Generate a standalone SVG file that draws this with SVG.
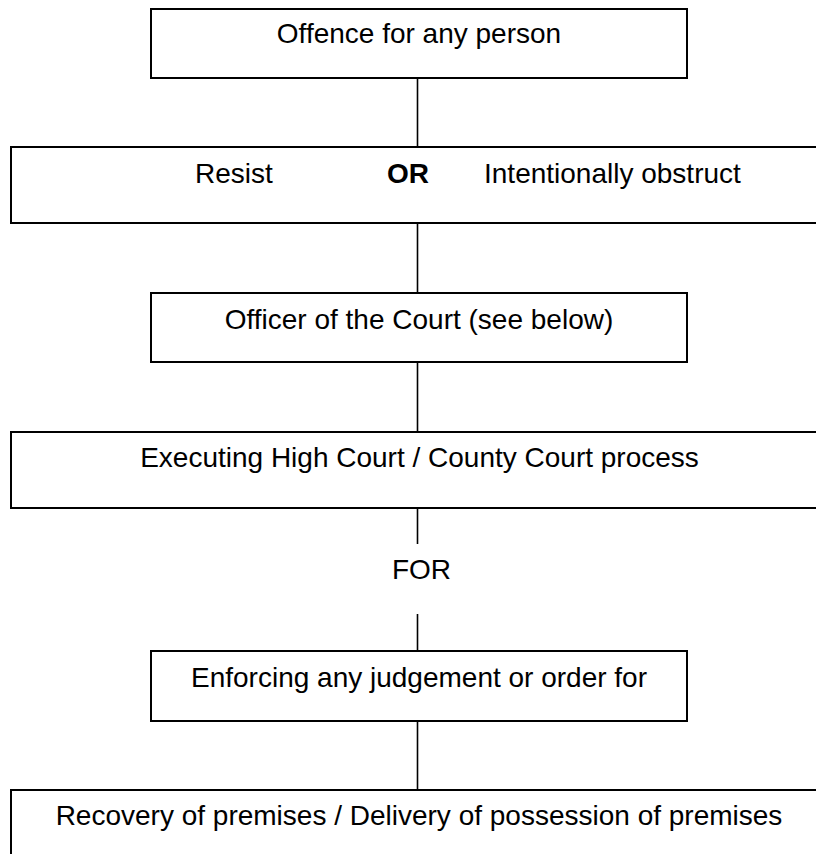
<svg xmlns="http://www.w3.org/2000/svg" width="816" height="854" viewBox="0 0 816 854">
  <style>
    .box { fill: #ffffff; stroke: #000000; stroke-width: 2; }
    .conn { stroke: #000000; stroke-width: 1.6; fill: none; }
    .t { font-family: "Liberation Sans", Arial, sans-serif; font-size: 28px; fill: #000000; }
    .c { text-anchor: middle; }
    .b { font-weight: bold; }
  </style>
  <rect x="0" y="0" width="816" height="854" fill="#ffffff"/>
  <g id="connectors">
    <line class="conn" x1="417.5" y1="78" x2="417.5" y2="147"/>
    <line class="conn" x1="417.5" y1="223" x2="417.5" y2="293"/>
    <line class="conn" x1="417.5" y1="362" x2="417.5" y2="432"/>
    <line class="conn" x1="417.5" y1="508" x2="417.5" y2="544"/>
    <line class="conn" x1="417.5" y1="614" x2="417.5" y2="651"/>
    <line class="conn" x1="417.5" y1="721" x2="417.5" y2="790"/>
  </g>
  <g id="offence">
    <rect class="box" x="151" y="9" width="536" height="69"/>
    <text class="t c" x="419" y="43">Offence for any person</text>
  </g>
  <g id="resist-or-obstruct">
    <rect class="box" x="11" y="147" width="820" height="76"/>
    <text class="t" x="195" y="183">Resist</text>
    <text class="t b" x="387" y="183">OR</text>
    <text class="t" x="484" y="183">Intentionally obstruct</text>
  </g>
  <g id="officer">
    <rect class="box" x="151" y="293" width="536" height="69"/>
    <text class="t c" x="419" y="329">Officer of the Court (see below)</text>
  </g>
  <g id="executing">
    <rect class="box" x="11" y="432" width="820" height="76"/>
    <text class="t c" x="419.5" y="467">Executing High Court / County Court process</text>
  </g>
  <g id="for-label">
    <text class="t c" x="421.5" y="579">FOR</text>
  </g>
  <g id="enforcing">
    <rect class="box" x="151" y="651" width="536" height="70"/>
    <text class="t c" x="419" y="687">Enforcing any judgement or order for</text>
  </g>
  <g id="recovery">
    <rect class="box" x="11" y="790" width="820" height="76"/>
    <text class="t c" x="419" y="825">Recovery of premises / Delivery of possession of premises</text>
  </g>
</svg>
